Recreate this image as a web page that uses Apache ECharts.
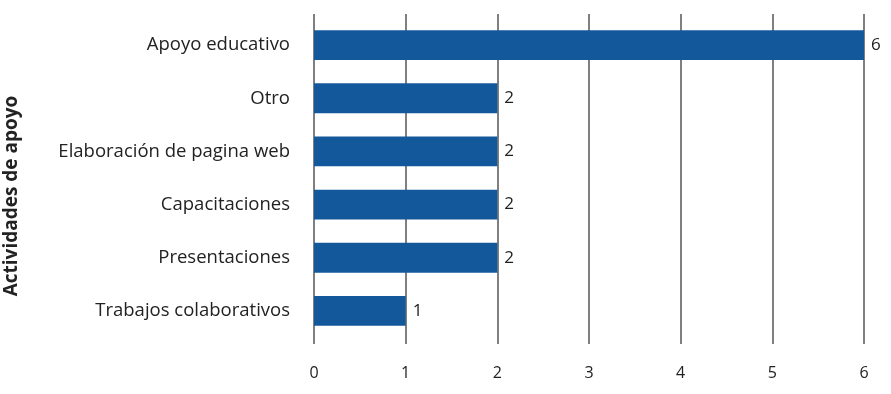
<!DOCTYPE html>
<html><head><meta charset="utf-8">
<script src="https://cdn.jsdelivr.net/npm/echarts@6/dist/echarts.min.js"></script>
<style>html,body{margin:0;padding:0;background:#fff}#c{width:891px;height:394px}</style>
</head><body><div id="c"></div>
<script>
const categories = ["Apoyo educativo","Otro","Elaboración de pagina web","Capacitaciones","Presentaciones","Trabajos colaborativos"];
const values = [6,2,2,2,2,1];
const axisTitle = "Actividades de apoyo";
const font = "Open Sans";
const chart = echarts.init(document.getElementById('c'));
chart.setOption({
  animation:false,
  grid:[
    {left:314,right:27,top:18.5,bottom:56.5,containLabel:false},
    {left:314,right:27,top:14,bottom:50,containLabel:false}
  ],
  xAxis:[
    {type:'value',gridIndex:0,min:0,max:6,interval:1,show:false},
    {type:'value',gridIndex:1,min:0,max:6,interval:1,
      axisLine:{show:false},axisTick:{show:false},
      splitLine:{show:true,lineStyle:{color:'#555',width:1.5}},
      axisLabel:{margin:21,color:'#222',fontSize:16,fontFamily:font}}
  ],
  yAxis:[
    {type:'category',gridIndex:0,data:categories,inverse:true,
      axisLine:{show:false},axisTick:{show:false},
      axisLabel:{margin:24,color:'#222',fontSize:18.5,fontFamily:font}},
    {type:'value',gridIndex:1,show:false,min:0,max:1}
  ],
  graphic:[{type:'text',x:12,y:196,rotation:Math.PI/2,
    style:{text:axisTitle,fill:'#222',font:'bold 19px "Open Sans"',align:'center',verticalAlign:'middle'}}],
  series:[{type:'bar',xAxisIndex:0,yAxisIndex:0,data:values,barWidth:'56%',
    itemStyle:{color:'#14589c'},
    label:{show:true,position:'right',distance:7,color:'#222',fontSize:17,fontFamily:font}}]
});
</script></body></html>
